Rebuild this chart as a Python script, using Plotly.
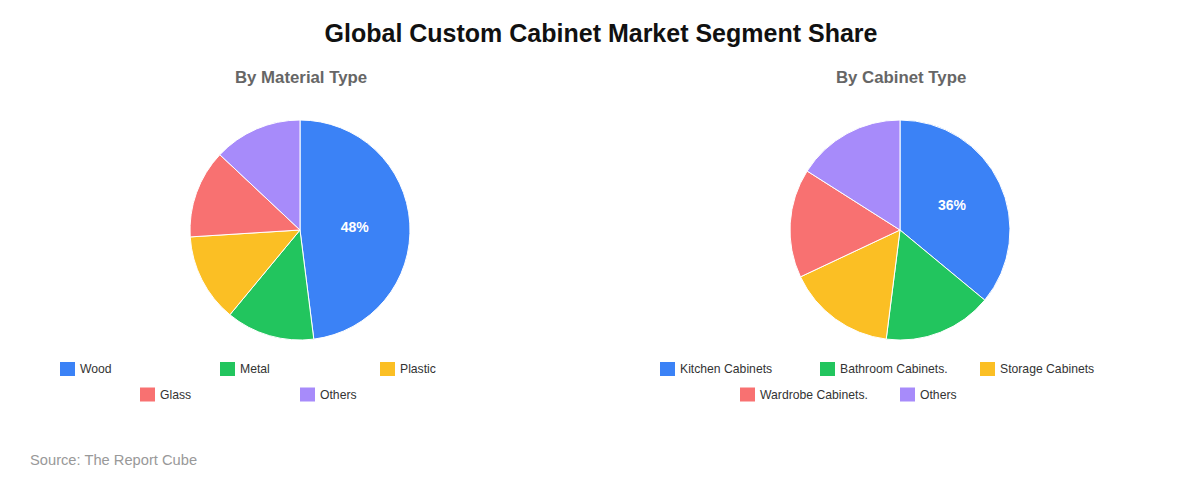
import plotly.graph_objects as go

W, H = 1200, 480
OFF = 8  # the page body adds an 8px margin around the figure

material_labels = ["Wood", "Metal", "Plastic", "Glass", "Others"]
material_values = [48, 13, 13, 13, 13]

cabinet_labels = ["Kitchen Cabinets", "Bathroom Cabinets.", "Storage Cabinets", "Wardrobe Cabinets.", "Others"]
cabinet_values = [36, 16, 16, 16, 16]

colors = ["#3b82f6", "#22c55e", "#fbbf24", "#f87171", "#a78bfa"]

FONT = "Arial, 'Liberation Sans', Helvetica, sans-serif"


def px(x):
    return (x - OFF) / W


def py(y):
    return (H - (y - OFF)) / H


def pie_trace(labels, values, cx):
    # only the big slice gets a label, like the original
    text = [f"{v}%" if v >= 30 else "" for v in values]
    return go.Pie(
        labels=labels,
        values=values,
        text=text,
        textinfo="text",
        textposition="inside",
        insidetextorientation="horizontal",
        textfont=dict(family=FONT, size=14, color="white", weight="bold"),
        sort=False,
        direction="clockwise",
        rotation=0,
        marker=dict(colors=colors, line=dict(color="white", width=1)),
        showlegend=False,
        hoverinfo="label+percent",
        domain=dict(x=[px(cx - 110), px(cx + 110)], y=[py(340), py(120)]),
    )


def legend_items(labels, start_x):
    shapes, notes = [], []
    rows = [labels[:3], labels[3:]]
    for r, row in enumerate(rows):
        yc = 369 + r * 25.5
        x0 = start_x + (3 - len(row)) * 80
        for i, lab in enumerate(row):
            idx = labels.index(lab)
            bx = x0 + i * 160
            shapes.append(dict(
                type="rect", xref="paper", yref="paper",
                x0=px(bx), x1=px(bx + 15), y0=py(yc + 7), y1=py(yc - 7),
                fillcolor=colors[idx], line=dict(width=0),
            ))
            notes.append(dict(
                text=lab, xref="paper", yref="paper",
                x=px(bx + 18), y=py(yc), xanchor="left", yanchor="middle",
                showarrow=False, font=dict(family=FONT, size=12.2, color="#333"),
            ))
    return shapes, notes


fig = go.Figure()
fig.add_trace(pie_trace(material_labels, material_values, 300))
fig.add_trace(pie_trace(cabinet_labels, cabinet_values, 900))

shapes_l, notes_l = legend_items(material_labels, 60)
shapes_r, notes_r = legend_items(cabinet_labels, 660)

annotations = [
    dict(text="<b>By Material Type</b>", x=px(301), y=py(77), xref="paper", yref="paper",
         showarrow=False, xanchor="center", yanchor="middle",
         font=dict(family=FONT, size=16.8, color="#666")),
    dict(text="<b>By Cabinet Type</b>", x=px(901), y=py(77), xref="paper", yref="paper",
         showarrow=False, xanchor="center", yanchor="middle",
         font=dict(family=FONT, size=16.8, color="#666")),
    dict(text="Source: The Report Cube", x=px(28), y=py(460), xref="paper", yref="paper",
         showarrow=False, xanchor="left", yanchor="middle",
         font=dict(family=FONT, size=14.7, color="#999")),
] + notes_l + notes_r

fig.update_layout(
    width=W, height=H,
    margin=dict(l=0, r=0, t=0, b=0),
    paper_bgcolor="white",
    plot_bgcolor="white",
    title=dict(text="<b>Global Custom Cabinet Market Segment Share</b>",
               x=px(601), xanchor="center", y=py(33), yanchor="middle",
               font=dict(family=FONT, size=25, color="#111")),
    annotations=annotations,
    shapes=shapes_l + shapes_r,
)

fig.write_html("out.html")
